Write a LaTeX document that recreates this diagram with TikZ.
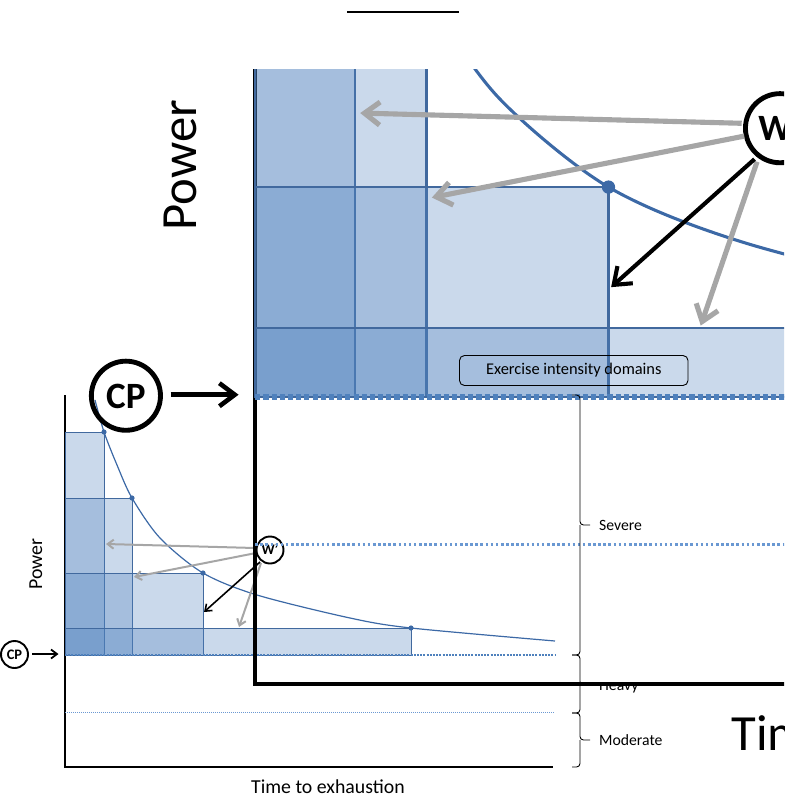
\documentclass[tikz,border=0pt]{standalone}
\usepackage{fontspec}
\setmainfont{Carlito}
\usetikzlibrary{arrows.meta}

\definecolor{rectfill}{HTML}{4F81BD}
\definecolor{rectedge}{HTML}{41699E}
\definecolor{curveblue}{HTML}{3C69A6}
\definecolor{cpblue}{HTML}{4F81BD}
\definecolor{modblue}{HTML}{6A98D2}
\definecolor{arrowgray}{HTML}{A6A6A6}

\tikzset{
  fig axis/.style={line width=\lwAx pt},
  fig mod/.style={modblue,line width=\lwMod pt,dash pattern=on \dMod pt off \dMod pt},
  fig rect/.style={fill=rectfill,fill opacity=0.3,draw=rectedge,line width=\lwRect pt},
  fig cp/.style={cpblue,line width=\lwCp pt,dash pattern=on \dCpOn pt off \dCpOff pt},
  fig curve/.style={curveblue,line width=\lwCurve pt},
  fig label/.style={font=\fontsize{\fsLabel}{\fsLabel}\selectfont,inner sep=0pt},
  fig badge/.style={font=\fontsize{\fsBold}{\fsBold}\selectfont\bfseries,inner sep=0pt},
  fig ring/.style={draw,circle,line width=\lwCirc pt,minimum size=\ringD pt,inner sep=0pt},
  fig gray/.style={arrowgray,line width=\lwGray pt,-{Straight Barb[length=\tipL pt,width=\tipW pt]}},
  fig black/.style={black,line width=\lwBlack pt,-{Straight Barb[length=\tipL pt,width=\tipW pt]}},
  domain label/.style={font=\fontsize{15.7}{15.7}\selectfont,inner sep=0pt,anchor=base west},
  bracket/.style={line width=0.9pt,rounded corners=3.5pt},
}

% The power-duration figure, drawn in its own coordinates;
% #1 scales line widths, tips, rings and type.
\newcommand\wholefig[1]{%
  \pgfmathsetmacro\k{#1}%
  \pgfmathsetmacro\lwAx{1.4*\k}%
  \pgfmathsetmacro\lwRect{1.0*\k}%
  \pgfmathsetmacro\lwCurve{1.2*\k}%
  \pgfmathsetmacro\lwCp{2.0*\k}%
  \pgfmathsetmacro\dCpOn{2.0*\k}%
  \pgfmathsetmacro\dCpOff{1.2*\k}%
  \pgfmathsetmacro\lwMod{1.2*\k}%
  \pgfmathsetmacro\dMod{1.0*\k}%
  \pgfmathsetmacro\lwCirc{1.9*\k}%
  \pgfmathsetmacro\ringD{27*\k}%
  \pgfmathsetmacro\lwGray{2.0*\k}%
  \pgfmathsetmacro\lwBlack{1.6*\k}%
  \pgfmathsetmacro\lwCpArrow{1.8*\k}%
  \pgfmathsetmacro\tipL{6*\k}%
  \pgfmathsetmacro\tipW{9*\k}%
  \pgfmathsetmacro\fsLabel{19.8*\k}%
  \pgfmathsetmacro\fsBold{14.5*\k}%
  % axes
  \draw[fig axis] (65,395) -- (65,767) -- (553,767);
  % moderate / heavy boundary
  \draw[fig mod] (65,712.5) -- (555,712.5);
  % work bars above CP
  \foreach \r/\t in {104/432,132/498,203/573,411/628}
    \filldraw[fig rect] (65,\t) rectangle (\r,655);
  % critical power level
  \draw[fig cp] (65,655) -- (555,655);
  % power-duration curve
  \draw[fig curve] plot[smooth] coordinates {(95,400) (104,432) (117,465) (132,498) (160,538) (203,573) (257,595) (350,618) (411,628) (555,641)};
  \foreach \p in {(104,432),(132,498),(203,573),(411,628)}
    \fill[curveblue] \p circle[radius=2.6];
  % axis titles
  \node[fig label,rotate=90,anchor=base west] (powerlbl) at (42,590) {Power};
  \node[fig label,anchor=base west] (timelbl) at (251,793) {Time to exhaustion};
  % CP marker
  \node[fig ring] (cpring) at (14.5,654.5) {};
  \node[fig badge] (cptext) at (cpring.center) {CP};
  \coordinate (cpstart) at (32,654);
  \coordinate (cpend) at (58.5,654);
  \draw[fig black,line width=\lwCpArrow pt] (cpstart) -- (cpend);
  % W' marker and its arrows
  \node[fig ring] (wring) at (270,550) {};
  \node[fig badge] (wtext) at ([yshift=0.5]wring.center) {W’};
  \coordinate (ws1) at (255,548);
  \coordinate (ws2) at (256,553);
  \coordinate (ws3) at (261,563);
  \coordinate (ws4) at (260,562);
  \coordinate (wa) at (106,544);
  \coordinate (wb) at (134,577);
  \coordinate (wc) at (239,627);
  \coordinate (wd) at (204,612);
  \draw[fig gray] (ws1) -- (wa);
  \draw[fig gray] (ws2) -- (wb);
  \draw[fig gray] (ws3) -- (wc);
  \draw[fig black] (ws4) -- (wd);
}

\begin{document}
\begin{tikzpicture}[x=1pt,y=-1pt]
\useasboundingbox (0,0) rectangle (784,797);

% stray rule at the top
\draw[line width=2.2pt] (347,12) -- (459,12);

% the figure at its own size
\wholefig{1}

% enlarged view of the same figure
\begin{scope}
  \clip (0,70) rectangle (784,797);
  \begin{scope}[shift={(255.2,397)},scale=2.56,shift={(-65,-655)}]
    \wholefig{2.56}
  \end{scope}
\end{scope}

% intensity domain brackets
\draw[bracket] (572,395) -| (580,525) -- (590,525);
\draw[bracket] (580,525) |- (572,655);
\draw[bracket] (572,655) -| (580,685) -- (590,685);
\draw[bracket] (580,685) |- (572,713);
\draw[bracket] (572,713) -| (580,740) -- (590,740);
\draw[bracket] (580,740) |- (572,767);
\node[domain label] (severe) at (599,530) {Severe};
\begin{scope}
  \clip (590,685.5) rectangle (690,710);
  \node[domain label] (heavy) at (599,690.5) {Heavy};
\end{scope}
\node[domain label] (moderate) at (599,745) {Moderate};

% caption box
\draw[line width=0.9pt,rounded corners=5pt] (459.5,355.5) rectangle (688,385.5);
\node[font=\fontsize{16.4}{16.4}\selectfont,inner sep=0pt] (domains) at (573.8,370.5) {Exercise intensity domains};
\end{tikzpicture}
\end{document}
